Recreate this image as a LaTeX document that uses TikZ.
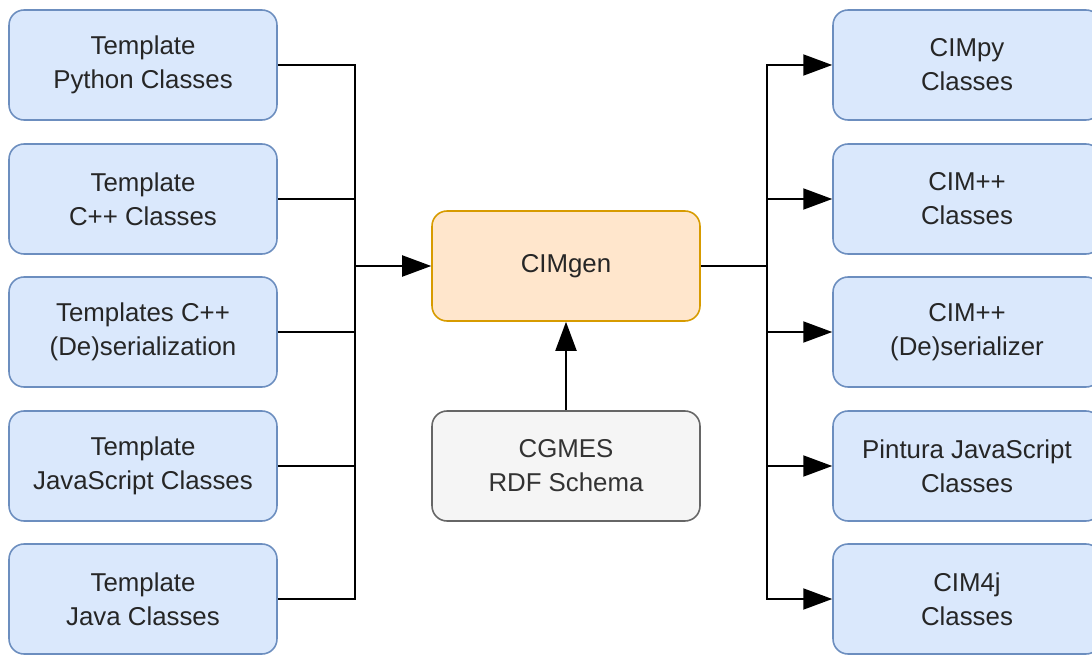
\documentclass[tikz,border=0pt]{standalone}
\usepackage{fontspec}
\setmainfont{Liberation Sans}
\usepackage{tikz}
\usetikzlibrary{arrows.meta}

\definecolor{tplfill}{HTML}{DAE8FC}
\definecolor{tplline}{HTML}{6C8EBF}
\definecolor{genfill}{HTML}{FFE6CC}
\definecolor{genline}{HTML}{D79B00}
\definecolor{cgmfill}{HTML}{F5F5F5}
\definecolor{cgmline}{HTML}{666666}
\definecolor{cgmtext}{HTML}{333333}

\begin{document}
\begin{tikzpicture}[x=0.02cm, y=-0.02cm,
        box/.style={rounded corners=0.3cm, line width=0.9pt, align=center,
            minimum width=5.36cm, minimum height=2.2cm, text=black!85,
            font=\fontsize{14.7}{19.3}\selectfont},
        tpl/.style={box, draw=tplline, fill=tplfill},
        gen/.style={box, draw=genline, fill=genfill},
        cgm/.style={box, draw=cgmline, fill=cgmfill, text=cgmtext},
        link/.style={line width=1.1pt},
        arr/.style={link, -{Triangle[length=0.58cm, width=0.42cm]}}]
        \useasboundingbox (0,0) rectangle (1092,655);

        % templates on the left
        \node[tpl] at (143, 65)   (t1) {Template\\Python Classes};
        \node[tpl] at (143, 199)  (t2) {Template\\C++ Classes};
        \node[tpl] at (143, 332)  (t3) {Templates C++\\(De)serialization};
        \node[tpl] at (143, 466)  (t4) {Template\\JavaScript Classes};
        \node[tpl] at (143, 599)  (t5) {Template\\Java Classes};

        % generator and schema
        \node[gen] at (566, 266)  (cimgen) {CIMgen};
        \node[cgm] at (566, 466)  (cgmes) {CGMES\\RDF Schema};

        % generated classes on the right
        \node[tpl] at (967, 65)   (o1) {CIMpy\\Classes};
        \node[tpl] at (967, 199)  (o2) {CIM++\\Classes};
        \node[tpl] at (967, 332)  (o3) {CIM++\\(De)serializer};
        \node[tpl] at (967, 466)  (o4) {Pintura JavaScript\\Classes};
        \node[tpl] at (967, 599)  (o5) {CIM4j\\Classes};

        \coordinate (busL) at (355, 266);
        \coordinate (busR) at (767, 266);

        \draw [link] (t1) -| (busL);\draw [link] (t2) -| (busL);
        \draw [link] (t3) -| (busL);\draw [link] (t4) -| (busL);
        \draw [link] (t5) -| (busL);
        \draw [arr] (busL) -- (cimgen);
        \draw [arr] (cgmes) -- (cimgen);

        \draw [link] (cimgen) -- (busR);
        \draw [arr] (busR) |- (o1);\draw [arr] (busR) |- (o2);
        \draw [arr] (busR) |- (o3);\draw [arr] (busR) |- (o4);
        \draw [arr] (busR) |- (o5);
    \end{tikzpicture}
\end{document}
